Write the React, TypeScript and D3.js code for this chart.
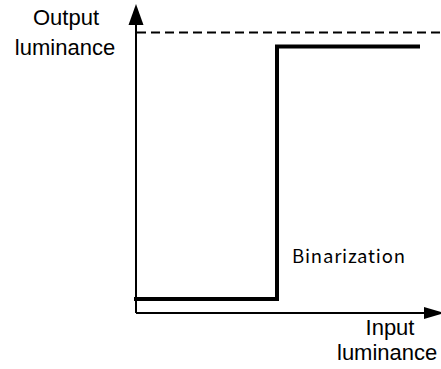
import React from "react";
import * as d3 from "d3";

const W = 441;
const H = 369;

// Data: binarization transfer curve (normalized luminance)
const inputLevels = [0, 0.5, 0.5, 1];
const outputLevels = [0.05, 0.05, 0.95, 0.95];
const maxOutput = 1;
const yLabelLines = ["Output", "luminance"];
const xLabelLines = ["Input", "luminance"];
const curveLabel = "Binarization";

export default function App() {
  const x0 = 136;
  const yBase = 313;
  const xScale = d3.scaleLinear().domain([0, 1]).range([134, 420]);
  const yScale = d3.scaleLinear().domain([0, 1]).range([yBase, 32.5]);

  const pts: [number, number][] = inputLevels.map((v, i) => [v, outputLevels[i]]);
  const line = d3
    .line<[number, number]>()
    .x((d) => xScale(d[0]))
    .y((d) => yScale(d[1]));

  const arial = "'Liberation Sans', Arial, sans-serif";
  const yTip = 4;
  const xTip = 444;

  return (
    <svg
      width={W}
      height={H}
      style={{ position: "absolute", left: 0, top: 0, background: "#fff" }}
    >
      <rect width={W} height={H} fill="#fff" />
      {/* max output dashed line */}
      <line
        x1={x0 + 1}
        x2={W}
        y1={yScale(maxOutput)}
        y2={yScale(maxOutput)}
        stroke="#000"
        strokeWidth={2}
        strokeDasharray="9,5"
      />
      {/* axes */}
      <line x1={x0} x2={x0} y1={yBase} y2={yTip + 18} stroke="#000" strokeWidth={2} />
      <line x1={x0} x2={xTip - 16} y1={yBase} y2={yBase} stroke="#000" strokeWidth={2} />
      <path
        d={`M${x0},${yTip} L${x0 - 7.5},${yTip + 21} L${x0 + 7.5},${yTip + 21} Z`}
        fill="#000"
      />
      <path
        d={`M${xTip},${yBase} L${xTip - 20},${yBase - 6} L${xTip - 20},${yBase + 6} Z`}
        fill="#000"
      />
      {/* step curve */}
      <path
        d={line(pts) || ""}
        fill="none"
        stroke="#000"
        strokeWidth={4}
        strokeLinejoin="miter"
        strokeLinecap="butt"
      />
      {/* labels */}
      <text x={66} y={25} textAnchor="middle" fontFamily={arial} fontSize={22} fill="#000">
        {yLabelLines[0]}
      </text>
      <text x={65} y={55} textAnchor="middle" fontFamily={arial} fontSize={22} fill="#000">
        {yLabelLines[1]}
      </text>
      <text x={390} y={335} textAnchor="middle" fontFamily={arial} fontSize={22} fill="#000">
        {xLabelLines[0]}
      </text>
      <text x={337} y={360} textAnchor="start" fontFamily={arial} fontSize={22} fill="#000">
        {xLabelLines[1]}
      </text>
      <text
        x={292}
        y={263}
        textAnchor="start"
        fontFamily="'Noto Sans CJK JP', sans-serif"
        fontSize={18.5}
        textLength={113}
        lengthAdjust="spacing"
        fill="#000"
      >
        {curveLabel}
      </text>
    </svg>
  );
}
